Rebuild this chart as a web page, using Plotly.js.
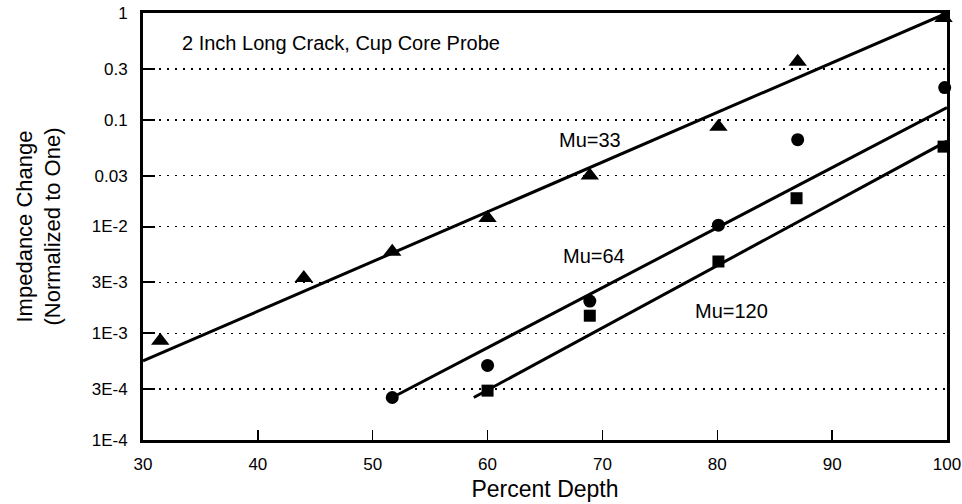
<!DOCTYPE html>
<html>
<head>
<meta charset="utf-8">
<script src="https://cdn.plot.ly/plotly-3.0.1.min.js"></script>
<style>html,body{margin:0;padding:0;background:#fff;}#chart{width:962px;height:504px;}</style>
</head>
<body>
<div id="chart"></div>
<script>
// Measured points (Percent Depth vs normalized impedance change)
const depth33 = [31.5, 44, 51.7, 60, 68.9, 80.1, 87, 99.7];
const mu33    = [0.00085, 0.0033, 0.0058, 0.012, 0.030, 0.086, 0.35, 0.9];
const depth64 = [51.7, 60, 68.9, 80.1, 87, 99.8];
const mu64    = [0.00025, 0.0005, 0.002, 0.0103, 0.065, 0.2];
const depth120 = [60, 68.9, 80.1, 86.9, 99.7];
const mu120    = [0.00029, 0.00146, 0.0047, 0.0184, 0.056];

// Fitted lines (end points)
const fit33X = [30, 100],   fit33Y = [0.00055, 1.0];
const fit64X = [51.7, 100], fit64Y = [0.00025, 0.13];
const fit120X = [58.8, 100], fit120Y = [0.00025, 0.063];

// Axis ticks
const yTickVals = [1e-4, 3e-4, 1e-3, 3e-3, 1e-2, 0.03, 0.1, 0.3, 1];
const yTickText = ['1E-4', '3E-4', '1E-3', '3E-3', '1E-2', '0.03', '0.1', '0.3', '1'];
const xTickVals = [30, 40, 50, 60, 70, 80, 90, 100];
const decades = [1e-4, 1e-3, 1e-2, 1e-1];
const minorDigits = [2, 3, 4, 5, 6, 7, 8, 9];
const yMinorVals = [];
decades.forEach(d => minorDigits.forEach(m => yMinorVals.push(d * m)));

// Minor tick marks on the left axis, drawn as layout shapes on the y scale
const minorTickShapes = yMinorVals.map(v => ({
  type: 'line', xref: 'paper', yref: 'y', x0: 0, x1: 0.0095,
  y0: Math.log10(v), y1: Math.log10(v), line: {color: '#000', width: 1.5}, layer: 'above'
}));

const lineStyle = {color: '#000', width: 3};
const traces = [
  {x: fit33X, y: fit33Y, mode: 'lines', line: lineStyle, hoverinfo: 'skip'},
  {x: fit64X, y: fit64Y, mode: 'lines', line: lineStyle, hoverinfo: 'skip'},
  {x: fit120X, y: fit120Y, mode: 'lines', line: lineStyle, hoverinfo: 'skip'},
  {x: depth33, y: mu33, mode: 'markers', cliponaxis: false,
   marker: {symbol: 'triangle-up', size: 16, color: '#000'}},
  {x: depth64, y: mu64, mode: 'markers', cliponaxis: false,
   marker: {symbol: 'circle', size: 13, color: '#000'}},
  {x: depth120, y: mu120, mode: 'markers', cliponaxis: false,
   marker: {symbol: 'square', size: 12, color: '#000'}}
];

const font = {family: 'Liberation Sans, Arial, sans-serif', color: '#000'};
const layout = {
  width: 962, height: 504,
  margin: {l: 143, r: 15, t: 13, b: 64},
  paper_bgcolor: '#fff', plot_bgcolor: '#fff',
  showlegend: false,
  font: Object.assign({size: 17}, font),
  xaxis: {
    range: [30, 100], tickmode: 'array', tickvals: xTickVals,
    ticks: 'inside', ticklen: 10, tickwidth: 1.5, tickcolor: '#000',
    showline: true, linewidth: 3, linecolor: '#000', mirror: true,
    showgrid: false, zeroline: false,
    tickfont: Object.assign({size: 17}, font),
    ticklabelstandoff: 7,
    title: {text: 'Percent Depth', font: Object.assign({size: 23}, font), standoff: 8}
  },
  yaxis: {
    type: 'log', range: [-4, 0], tickmode: 'array',
    tickvals: yTickVals, ticktext: yTickText,
    ticks: 'inside', ticklen: 12, tickwidth: 2, tickcolor: '#000',
    showline: true, linewidth: 3, linecolor: '#000', mirror: true,
    showgrid: true, gridcolor: '#000', gridwidth: 1.5, griddash: '2px,6px',
    zeroline: false,
    tickfont: Object.assign({size: 17}, font),
    ticklabelstandoff: 9,
    title: {text: 'Impedance Change<br>(Normalized to One)', font: Object.assign({size: 22}, font), standoff: 25}
  },
  shapes: minorTickShapes,
  annotations: [
    {text: '2 Inch Long Crack, Cup Core Probe', x: 33.2, y: -0.281, xref: 'x', yref: 'y',
     xanchor: 'left', yanchor: 'middle', showarrow: false, font: Object.assign({size: 20}, font)},
    {text: 'Mu=33', x: 68.9, y: -1.19, xref: 'x', yref: 'y', showarrow: false,
     font: Object.assign({size: 20}, font)},
    {text: 'Mu=64', x: 69.3, y: -2.276, xref: 'x', yref: 'y', showarrow: false,
     font: Object.assign({size: 20}, font)},
    {text: 'Mu=120', x: 81.2, y: -2.79, xref: 'x', yref: 'y', showarrow: false,
     font: Object.assign({size: 20}, font)}
  ]
};

Plotly.newPlot('chart', traces, layout, {staticPlot: true, displayModeBar: false});
</script>
</body>
</html>
